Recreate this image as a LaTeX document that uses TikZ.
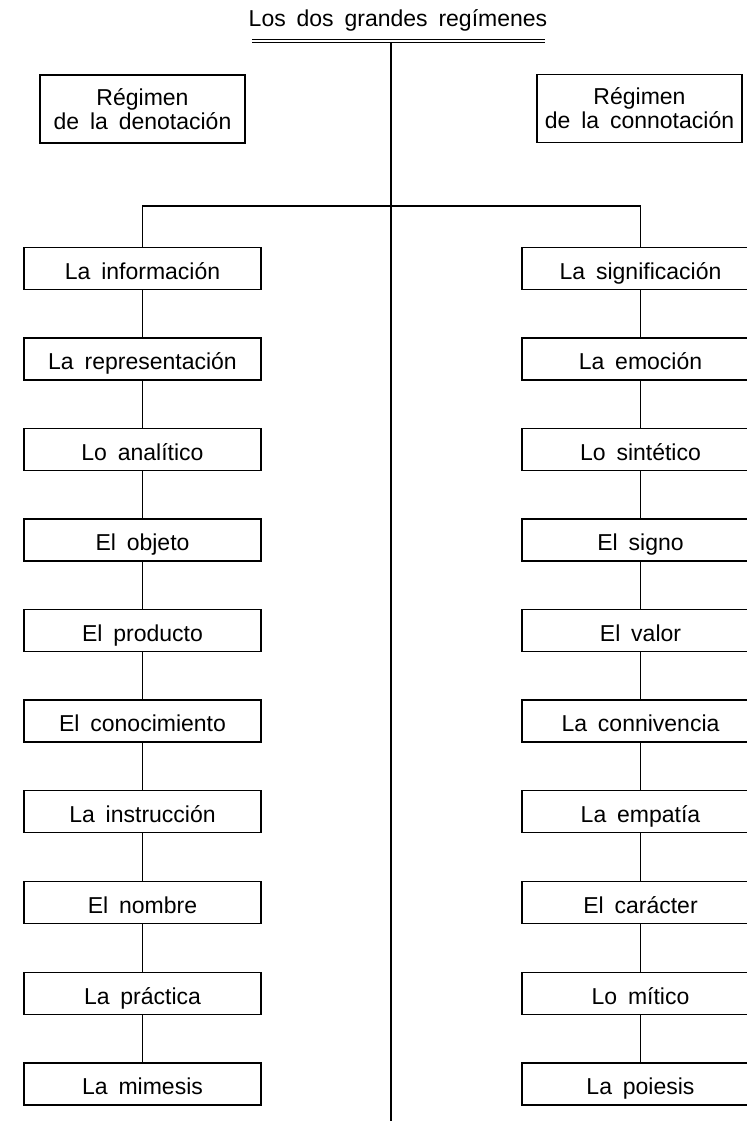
\documentclass[tikz,border=0pt]{standalone}
\usepackage{fontspec}
\setmainfont{Liberation Sans}[WordSpace=1.7]
\usepackage{tikz}
\usetikzlibrary{positioning}

\begin{document}
\begin{tikzpicture}[x=0.5pt,y=-0.5pt,
  line width=0.9pt,
  font=\fontsize{11.5}{12}\selectfont,
  box/.style={rectangle,draw,minimum width=118.5pt,minimum height=21pt,inner sep=0pt,
    text height=11.7pt,text depth=1pt},
  head/.style={rectangle,draw,minimum width=102.5pt,minimum height=34pt,inner sep=0pt,align=center}]
  \useasboundingbox (0,0) rectangle (747,1124);
  % title and main axis
  \node[inner sep=0pt] (tit) at (398,20) {Los dos grandes regímenes};
  \draw (252,39.5) -- (545,39.5);
  \draw (252,42.5) -- (545,42.5);
  \coordinate (top) at (391,42.5);
  \coordinate (bot) at (391,1121);
  \draw (top) -- (bot);
  % the two headings
  \node[head] (hd) at (142.5,109) {Régimen\\de la denotación};
  \node[head] (hc) at (639.5,108.5) {Régimen\\de la connotación};
  % denotation column
  \node[box] (d1) at (142.5,268.5) {La información};
  \node[box] (d2) at (142.5,359) {La representación};
  \node[box] (d3) at (142.5,449.5) {Lo analítico};
  \node[box] (d4) at (142.5,540) {El objeto};
  \node[box] (d5) at (142.5,630.5) {El producto};
  \node[box] (d6) at (142.5,721) {El conocimiento};
  \node[box] (d7) at (142.5,811.5) {La instrucción};
  \node[box] (d8) at (142.5,902.5) {El nombre};
  \node[box] (d9) at (142.5,993.5) {La práctica};
  \node[box] (d10) at (142.5,1084) {La mimesis};
  % connotation column
  \node[box] (c1) at (640.5,268.5) {La significación};
  \node[box] (c2) at (640.5,359) {La emoción};
  \node[box] (c3) at (640.5,449.5) {Lo sintético};
  \node[box] (c4) at (640.5,540) {El signo};
  \node[box] (c5) at (640.5,630.5) {El valor};
  \node[box] (c6) at (640.5,721) {La connivencia};
  \node[box] (c7) at (640.5,811.5) {La empatía};
  \node[box] (c8) at (640.5,902.5) {El carácter};
  \node[box] (c9) at (640.5,993.5) {Lo mítico};
  \node[box] (c10) at (640.5,1084) {La poiesis};
  % branch
  \coordinate (bl) at (d1.north |- 0,206);
  \coordinate (br) at (c1.north |- 0,206);
  \draw (d1.north) -- (bl) -- (br) -- (c1.north);
  \draw (d1) -- (d2) -- (d3) -- (d4) -- (d5) -- (d6) -- (d7) -- (d8) -- (d9) -- (d10);
  \draw (c1) -- (c2) -- (c3) -- (c4) -- (c5) -- (c6) -- (c7) -- (c8) -- (c9) -- (c10);
\end{tikzpicture}
\end{document}
